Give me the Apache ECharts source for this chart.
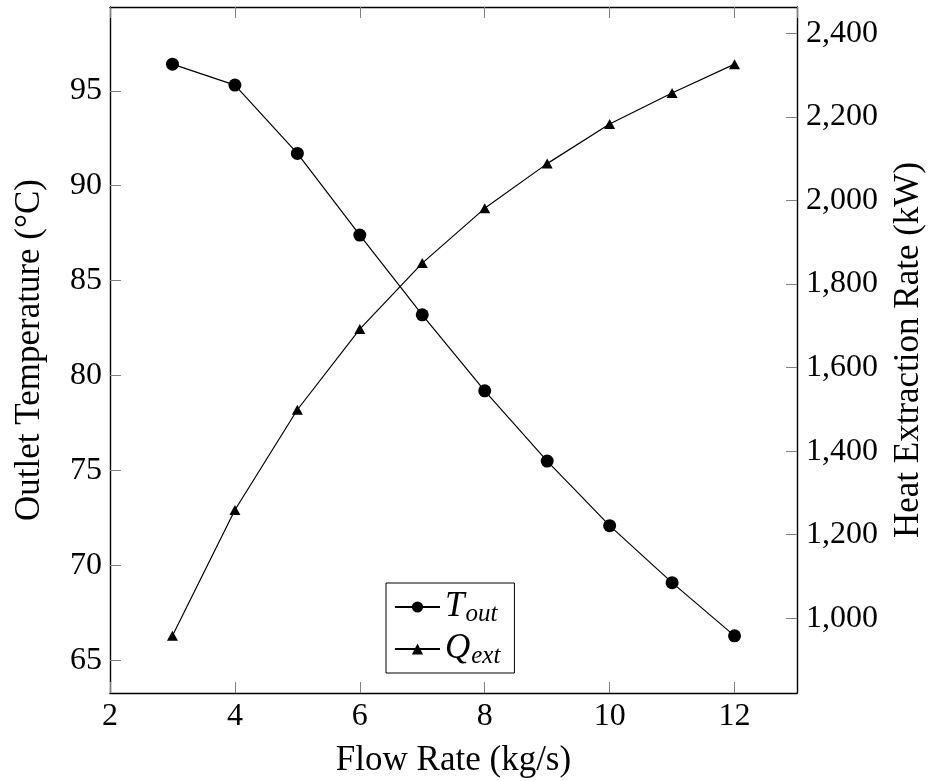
<!DOCTYPE html>
<html>
<head>
<meta charset="utf-8">
<script src="https://cdn.jsdelivr.net/npm/echarts@6/dist/echarts.min.js"></script>
<style>
html,body{margin:0;padding:0;background:#fff;}
#chart{width:934px;height:781px;}
</style>
</head>
<body>
<div id="chart"></div>
<script>
// Data
const flowRate = [3, 4, 5, 6, 7, 8, 9, 10, 11, 12];          // kg/s
const outletTemp = [96.4, 95.3, 91.7, 87.4, 83.2, 79.2, 75.5, 72.1, 69.1, 66.3]; // °C
const heatRate = [958, 1259, 1499, 1692, 1850, 1981, 2088, 2183, 2257, 2326];   // kW
const xTicks = [2, 4, 6, 8, 10, 12];

const FONT = 'Liberation Serif';
const FS = 32;
const TFS = 35;

function enlarged(arr) {
  const lo = Math.min(...arr), hi = Math.max(...arr);
  const pad = 0.1 * (hi - lo);
  return [lo - pad, hi + pad];
}
const tExt = enlarged(outletTemp);
const qExt = enlarged(heatRate);

const tData = flowRate.map((x, i) => [x, outletTemp[i]]);
const qData = flowRate.map((x, i) => [x, heatRate[i]]);

const axisLine = {show: true, lineStyle: {color: '#000', width: 1.4}};
const tick = {show: true, inside: true, length: 11, lineStyle: {color: '#808080', width: 1}};
const labelStyle = {fontFamily: FONT, fontSize: FS, color: '#000'};
const titleStyle = {fontFamily: FONT, fontSize: TFS, color: '#000'};

const chart = echarts.init(document.getElementById('chart'), null, {renderer: 'canvas'});
chart.setOption({
  backgroundColor: '#fff',
  animation: false,
  grid: {left: 110, right: 137, top: 7, bottom: 88, containLabel: false, outerBoundsMode: 'none'},
  xAxis: [{
    type: 'value', position: 'bottom', min: 2, max: 13, interval: 2,
    name: 'Flow Rate (kg/s)', nameLocation: 'middle', nameGap: 50,
    nameTextStyle: titleStyle,
    axisLine: axisLine, axisTick: tick, splitLine: {show: false},
    axisLabel: Object.assign({margin: 8, showMaxLabel: false,
      formatter: v => (xTicks.indexOf(v) >= 0 ? String(v) : '')}, labelStyle)
  }, {
    type: 'value', position: 'top', min: 2, max: 13, interval: 2,
    axisLine: axisLine, axisTick: tick, splitLine: {show: false},
    axisLabel: {show: false}
  }],
  yAxis: [{
    type: 'value', position: 'left', min: tExt[0], max: tExt[1], splitNumber: 7,
    name: 'Outlet Temperature (°C)', nameLocation: 'middle', nameGap: 63, nameRotate: 90,
    nameTextStyle: titleStyle,
    axisLine: axisLine, axisTick: tick, splitLine: {show: false},
    axisLabel: Object.assign({margin: 8, showMinLabel: false, showMaxLabel: false}, labelStyle)
  }, {
    type: 'value', position: 'right', min: qExt[0], max: qExt[1], splitNumber: 8,
    name: 'Heat Extraction Rate (kW)', nameLocation: 'middle', nameGap: 94, nameRotate: 90,
    nameTextStyle: titleStyle,
    axisLine: axisLine, axisTick: tick, splitLine: {show: false},
    axisLabel: Object.assign({margin: 9, showMinLabel: false, showMaxLabel: false,
      formatter: v => Math.round(v).toLocaleString('en-US')}, labelStyle)
  }],
  legend: {
    orient: 'vertical', left: 386, top: 583,
    padding: [4, 14, 4, 8], itemGap: 2, itemWidth: 45, itemHeight: 14,
    borderColor: '#000', borderWidth: 1, backgroundColor: '#fff',
    data: ['T_out', 'Q_ext'],
    formatter: name => name === 'T_out' ? '{m|T}{s|out}' : '{m|Q}{s|ext}',
    textStyle: {
      fontFamily: FONT, color: '#000',
      rich: {
        m: {fontFamily: FONT, fontStyle: 'italic', fontSize: 35, lineHeight: 36},
        s: {fontFamily: FONT, fontStyle: 'italic', fontSize: 25, lineHeight: 25, padding: [15, 0, 0, 1]}
      }
    }
  },
  series: [{
    name: 'T_out', type: 'line', xAxisIndex: 0, yAxisIndex: 0, data: tData,
    symbol: 'circle', symbolSize: 13, showAllSymbol: true,
    lineStyle: {color: '#000', width: 1.2}, itemStyle: {color: '#000'}
  }, {
    name: 'Q_ext', type: 'line', xAxisIndex: 0, yAxisIndex: 1, data: qData,
    symbol: 'triangle', symbolSize: [11, 10], showAllSymbol: true,
    lineStyle: {color: '#000', width: 1.2}, itemStyle: {color: '#000'}
  }]
});
</script>
</body>
</html>
